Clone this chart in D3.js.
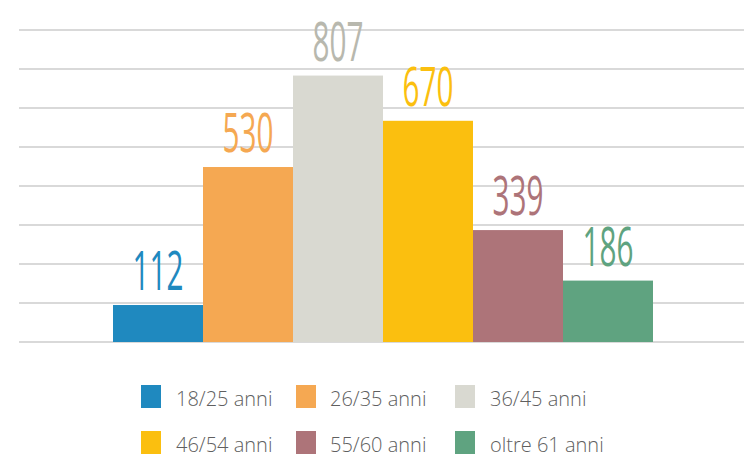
<!DOCTYPE html>
<html>
<head>
<meta charset="utf-8">
<script src="https://cdn.jsdelivr.net/npm/d3@7"></script>
<style>
  body { margin: 0; background: #fff; }
</style>
</head>
<body>
<div id="canvas"></div>
<script>
"use strict";

const categories = ["18/25 anni", "26/35 anni", "36/45 anni", "46/54 anni", "55/60 anni", "oltre 61 anni"];
const values = [112, 530, 807, 670, 339, 186];
const colors = ["#1f89bf", "#f5a852", "#d9d9d1", "#fbbf0f", "#ad7479", "#5fa380"];
const labelColors = ["#1f89bf", "#f5a852", "#b8b8ae", "#fbbf0f", "#ad7479", "#5fa380"];

let svg = d3.select("#canvas")
    .append("svg")
    .attr("width", 744)
    .attr("height", 457);

// plot area
let x = d3.scaleBand()
    .domain(categories)
    .range([113, 653])
    .padding(0);

let y = d3.scaleLinear()
    .domain([0, 945])
    .range([342, 30]);

// gridlines: 8 equal steps
let grid = d3.scaleLinear().domain([0, 8]).range([342, 30]);
svg.append("g")
    .selectAll("line")
    .data(d3.range(0, 9))
    .join("line")
    .attr("x1", 19)
    .attr("x2", 744)
    .attr("y1", d => grid(d))
    .attr("y2", d => grid(d))
    .attr("stroke", "#cccccc")
    .attr("stroke-width", 1.5);

// bars
svg.append("g")
    .selectAll("rect")
    .data(values)
    .join("rect")
    .attr("x", (d, i) => x(categories[i]))
    .attr("y", d => y(d))
    .attr("width", x.bandwidth())
    .attr("height", d => y(0) - y(d))
    .attr("fill", (d, i) => colors[i]);

// value labels (tall narrow digits)
svg.append("g")
    .selectAll("text")
    .data(values)
    .join("text")
    .attr("transform", (d, i) =>
        `translate(${x(categories[i]) + x.bandwidth() / 2},${y(d) - 15}) scale(0.55,1)`)
    .attr("text-anchor", "middle")
    .attr("font-family", "Open Sans")
    .attr("font-weight", 400)
    .attr("font-size", 54)
    .attr("fill", (d, i) => labelColors[i])
    .text(d => d);

// legend, 2 rows of 3
let legendX = [141, 296, 455];
let legendTextX = [176, 330, 490];
let legendY = [385, 431];

let legend = svg.append("g")
    .selectAll("g")
    .data(categories)
    .join("g")
    .attr("transform", (d, i) => `translate(${legendX[i % 3]},${legendY[Math.floor(i / 3)]})`);

legend.append("rect")
    .attr("width", 20)
    .attr("height", 23)
    .attr("fill", (d, i) => colors[i]);

legend.append("text")
    .attr("x", (d, i) => legendTextX[i % 3] - legendX[i % 3])
    .attr("y", 21)
    .attr("font-family", "Open Sans")
    .attr("font-weight", 300)
    .attr("font-size", 20)
    .attr("fill", "#5f5f5f")
    .text(d => d);
</script>
</body>
</html>
